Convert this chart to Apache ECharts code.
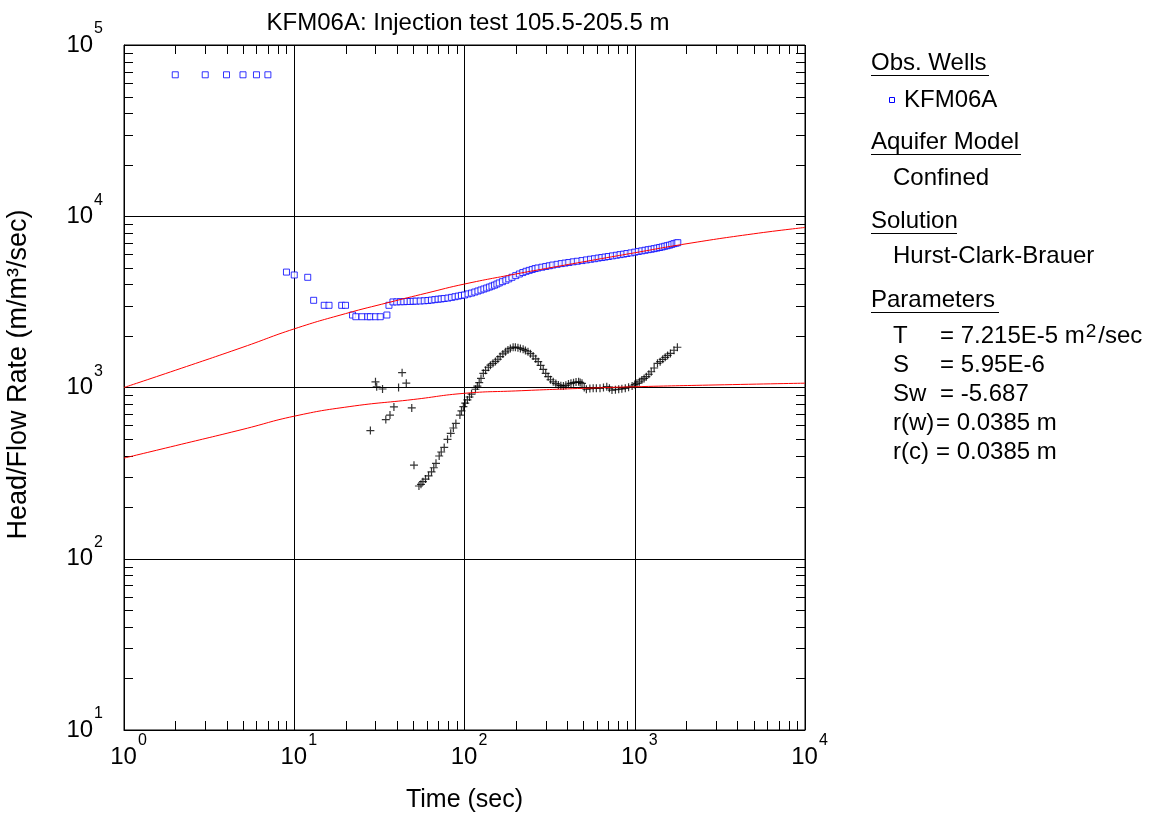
<!DOCTYPE html>
<html><head><meta charset="utf-8">
<script src="https://cdn.jsdelivr.net/npm/echarts@6/dist/echarts.min.js"></script>
<style>html,body{margin:0;padding:0;background:#fff}#c{width:1155px;height:816px}</style>
</head><body><div id="c"></div>
<script>
// ---------- data ----------
const chartTitle = 'KFM06A: Injection test 105.5-205.5 m';
const xAxisName = 'Time (sec)';
const yAxisName = 'Head/Flow Rate (m/m³/sec)';
const xRange = [1, 10000];
const yRange = [10, 100000];

// observed head / flow rate, [time s, value]
const obsWell = [
  [2,67000],[3,67000],[4,67000],[5,67000],[6,67000],[7,67000],
  [9,4720],[10,4540],[12,4400],[13,3230],[15,3020],[16,3020],[19,3020],[20,3020],
  [22,2650],[23,2590],[25,2590],[27,2590],[28,2590],[30,2590],[32,2590],[35,2650],
  [36,3020],[38,3160],[40,3160],[42,3170],[44,3170],[46,3180],[48,3180],[50,3190],
  [52,3195],[55,3200],[58,3210],[61,3220],[64,3240],[67,3260],[70,3280],[73,3290],
  [76,3310],[80,3330],[84,3360],[88,3390],[92,3420],[96,3450],[100,3470],[105,3520],
  [110,3560],[115,3610],[120,3660],[125,3710],[130,3760],[135,3810],[140,3860],[145,3910],
  [150,3960],[155,4020],[160,4080],[167,4150],[175,4230],[182,4310],[190,4400],[200,4500],
  [210,4600],[220,4690],[230,4770],[240,4830],[250,4890],[260,4950],[270,4990],[285,5040],
  [300,5090],[315,5140],[330,5190],[350,5240],[370,5290],[390,5330],[410,5370],[435,5420],
  [460,5460],[490,5510],[520,5560],[550,5610],[580,5650],[610,5700],[640,5740],[670,5780],
  [700,5820],[740,5870],[780,5920],[820,5970],[860,6010],[900,6060],[950,6110],[1000,6170],
  [1050,6230],[1100,6280],[1150,6330],[1200,6380],[1250,6420],[1300,6470],[1350,6520],
  [1400,6570],[1450,6620],[1500,6680],[1550,6730],[1600,6780],[1650,6850],[1700,6920],
  [1750,6970],[1790,7010]
];

// derivative points (black crosses), [time s, value]
const derivative = [
  [28,560],[30,1080],[30.5,1010],[33,980],[34.5,650],[36.5,690],[38.5,770],[41,1000],
  [43,1220],[45.5,1060],[49,760],[50.5,352],[54,266],[55.5,272],[57,282],[59,292],
  [61.5,305],[64,322],[66,340],[68,361],[71,398],[73,420],[76,447],[79.5,498],[83,540],
  [86,580],[89,617],[94,690],[96,730],[98.5,773],[101,810],[104,846],[107,880],[110,916],
  [116,977],[119,1020],[122,1067],[125,1130],[129,1210],[133,1260],[138,1313],[142,1350],
  [147,1384],[152,1420],[157,1462],[162,1515],[168,1570],[174,1615],[180,1656],[186,1690],
  [193,1718],[199,1720],[206,1707],[213,1692],[221,1670],[228,1645],[236,1617],[244,1575],
  [253,1527],[262,1470],[271,1415],[280,1345],[290,1277],[300,1210],[310,1156],[320,1110],
  [332,1080],[344,1055],[356,1035],[368,1025],[381,1020],[394,1030],[408,1048],[422,1058],
  [437,1067],[452,1075],[468,1080],[478,1070],[490,1058],[505,1000],[520,977],[545,985],
  [570,989],[595,990],[625,989],[655,1000],[685,1011],[710,990],[735,966],[770,970],
  [805,977],[840,983],[880,989],[920,1005],[965,1020],[1000,1040],[1030,1058],[1065,1080],
  [1100,1107],[1135,1130],[1170,1156],[1210,1195],[1250,1236],[1300,1300],[1360,1384],
  [1410,1415],[1460,1460],[1510,1500],[1560,1540],[1620,1582],[1700,1650],[1780,1718]
];

// fitted Hurst-Clark-Brauer type curves, [time s, value]
const fitCurve = [
  [1,1000],[2,1260],[5,1720],[10,2200],[20,2700],[36,3140],[60,3560],[100,4020],
  [200,4600],[300,4950],[500,5420],[1000,6120],[2000,6900],[5000,7900],[10000,8600]
];
const fitDerivative = [
  [1,387],[2,457],[5,570],[10,680],[21,773],[50,851],[100,925],[200,955],[500,989],
  [1000,1010],[3000,1035],[10000,1060]
];

// legend panel text
const legendHeads = ['Obs. Wells', 'Aquifer Model', 'Solution', 'Parameters'];
const wellName = 'KFM06A';
const aquiferModel = 'Confined';
const solutionName = 'Hurst-Clark-Brauer';
const paramNames = ['T', 'S', 'Sw', 'r(w)', 'r(c)'];
const paramValues = ['= 7.215E-5 m{sup|2}/sec', '= 5.95E-6', '= -5.687', '= 0.0385 m', '= 0.0385 m'];

// ---------- chart ----------
const FONT = '"Liberation Sans", Arial, Helvetica, sans-serif';
const minorTicks = [];
for (let e = 0; e < 4; e++) for (let k = 2; k <= 9; k++) minorTicks.push(k * Math.pow(10, e));
const minorTicksY = [];
for (let e = 1; e < 5; e++) for (let k = 2; k <= 9; k++) minorTicksY.push(k * Math.pow(10, e));

function expLabel(v) {
  const ex = Math.round(Math.log10(v));
  return '{b|10}{e|' + ex + '}';
}
function richFor(padLeft) {
  return {
    b: {fontSize: 24, fontFamily: FONT, color: '#000', verticalAlign: 'bottom', padding: [12, 0, 0, padLeft]},
    e: {fontSize: 16, fontFamily: FONT, color: '#000', verticalAlign: 'top', padding: [0, 0, 20, 1]}
  };
}
const TICK = 9;
function px(v) { return Math.round(v) + 0.5; }

const graphic = [];
const LX = 871, IX = 893;
const heads = [[legendHeads[0], 63, 989], [legendHeads[1], 142, 1021], [legendHeads[2], 221, 957], [legendHeads[3], 300, 999]];
heads.forEach(h => {
  graphic.push({type: 'text', x: LX, y: h[1], style: {text: h[0], font: '24px ' + FONT, fill: '#000', verticalAlign: 'middle'}});
  graphic.push({type: 'line', shape: {x1: LX, y1: h[1] + 12.5, x2: h[2], y2: h[1] + 12.5}, style: {stroke: '#000', lineWidth: 1}});
});
graphic.push({type: 'rect', shape: {x: 889.5, y: 97.5, width: 5, height: 5}, style: {fill: '#fff', stroke: '#0000ff', lineWidth: 1}});
graphic.push({type: 'text', x: 904, y: 100, style: {text: wellName, font: '24px ' + FONT, fill: '#000', verticalAlign: 'middle'}});
graphic.push({type: 'text', x: IX, y: 178, style: {text: aquiferModel, font: '24px ' + FONT, fill: '#000', verticalAlign: 'middle'}});
graphic.push({type: 'text', x: IX, y: 256, style: {text: solutionName, font: '24px ' + FONT, fill: '#000', verticalAlign: 'middle'}});
paramNames.forEach((n, i) => {
  const y = 336 + i * 29;
  const isR = n.startsWith('r(');
  graphic.push({type: 'text', x: IX, y: y, style: {text: n, font: '24px ' + FONT, fill: '#000', verticalAlign: 'middle'}});
  graphic.push({type: 'text', x: isR ? 936 : 940, y: y, style: {
    text: paramValues[i], font: '24px ' + FONT, fill: '#000', verticalAlign: 'middle',
    rich: {sup: {fontSize: 19, fontFamily: FONT, verticalAlign: 'top', padding: [0, 2, 9, 1]}}
  }});
});

const chart = echarts.init(document.getElementById('c'), null, {renderer: 'canvas'});
chart.setOption({
  animation: false,
  backgroundColor: '#fff',
  title: {text: chartTitle, left: 463, top: 6, textAlign: 'center',
    textStyle: {fontFamily: FONT, fontSize: 24, fontWeight: 'normal', color: '#000'}},
  grid: {left: 124, right: 350, top: 45, bottom: 86, containLabel: false, outerBoundsMode: 'none',
    show: true, borderColor: '#000', borderWidth: 1, backgroundColor: 'transparent'},
  xAxis: {
    type: 'log', logBase: 10, min: xRange[0], max: xRange[1],
    name: xAxisName, nameLocation: 'middle', nameGap: 58,
    nameTextStyle: {fontFamily: FONT, fontSize: 25, color: '#000'},
    axisLine: {show: true, lineStyle: {color: '#000', width: 1}},
    axisTick: {show: false},
    splitLine: {show: true, lineStyle: {color: '#000', width: 1}},
    axisLabel: {margin: 3, formatter: expLabel, rich: richFor(9), color: '#000'}
  },
  yAxis: {
    type: 'log', logBase: 10, min: yRange[0], max: yRange[1],
    name: yAxisName, nameLocation: 'middle', nameGap: 92, nameRotate: 90,
    nameTextStyle: {fontFamily: FONT, fontSize: 27, color: '#000', padding: [0, 0, 0, 26]},
    axisLine: {show: true, lineStyle: {color: '#000', width: 1}},
    axisTick: {show: false},
    splitLine: {show: true, lineStyle: {color: '#000', width: 1}},
    axisLabel: {margin: 21, formatter: expLabel, rich: richFor(0), padding: [0, 0, 12, 0], color: '#000'}
  },
  graphic: graphic,
  series: [
    {type: 'custom', silent: true, z: 3, clip: false,
      data: minorTicks.map(t => [t, yRange[0]]),
      renderItem: (p, api) => {
        const a = api.coord([api.value(0), yRange[0]]);
        const b = api.coord([api.value(0), yRange[1]]);
        const x = px(a[0]);
        return {type: 'group', children: [
          {type: 'line', shape: {x1: x, y1: a[1], x2: x, y2: a[1] - TICK}, style: {stroke: '#000', lineWidth: 1}},
          {type: 'line', shape: {x1: x, y1: b[1], x2: x, y2: b[1] + TICK}, style: {stroke: '#000', lineWidth: 1}}
        ]};
      }},
    {type: 'custom', silent: true, z: 3, clip: false,
      data: minorTicksY.map(v => [xRange[0], v]),
      renderItem: (p, api) => {
        const a = api.coord([xRange[0], api.value(1)]);
        const b = api.coord([xRange[1], api.value(1)]);
        const y = px(a[1]);
        return {type: 'group', children: [
          {type: 'line', shape: {x1: a[0], y1: y, x2: a[0] + TICK, y2: y}, style: {stroke: '#000', lineWidth: 1}},
          {type: 'line', shape: {x1: b[0], y1: y, x2: b[0] - TICK, y2: y}, style: {stroke: '#000', lineWidth: 1}}
        ]};
      }},
    {name: wellName, type: 'scatter', data: obsWell, symbol: 'rect', symbolSize: 6, z: 4,
      itemStyle: {color: '#fff', borderColor: '#0000ff', borderWidth: 1}},
    {name: 'derivative', type: 'scatter', data: derivative, symbol: 'path://M5,0 L5,10 M0,5 L10,5', symbolSize: 8, z: 4,
      itemStyle: {color: 'none', borderColor: '#000', borderWidth: 1.2}},
    {name: 'fit', type: 'line', data: fitCurve, smooth: true, showSymbol: false, z: 5,
      lineStyle: {color: '#ff0000', width: 1}},
    {name: 'fitDeriv', type: 'line', data: fitDerivative, smooth: true, showSymbol: false, z: 5,
      lineStyle: {color: '#ff0000', width: 1}}
  ]
});
</script>
</body></html>
